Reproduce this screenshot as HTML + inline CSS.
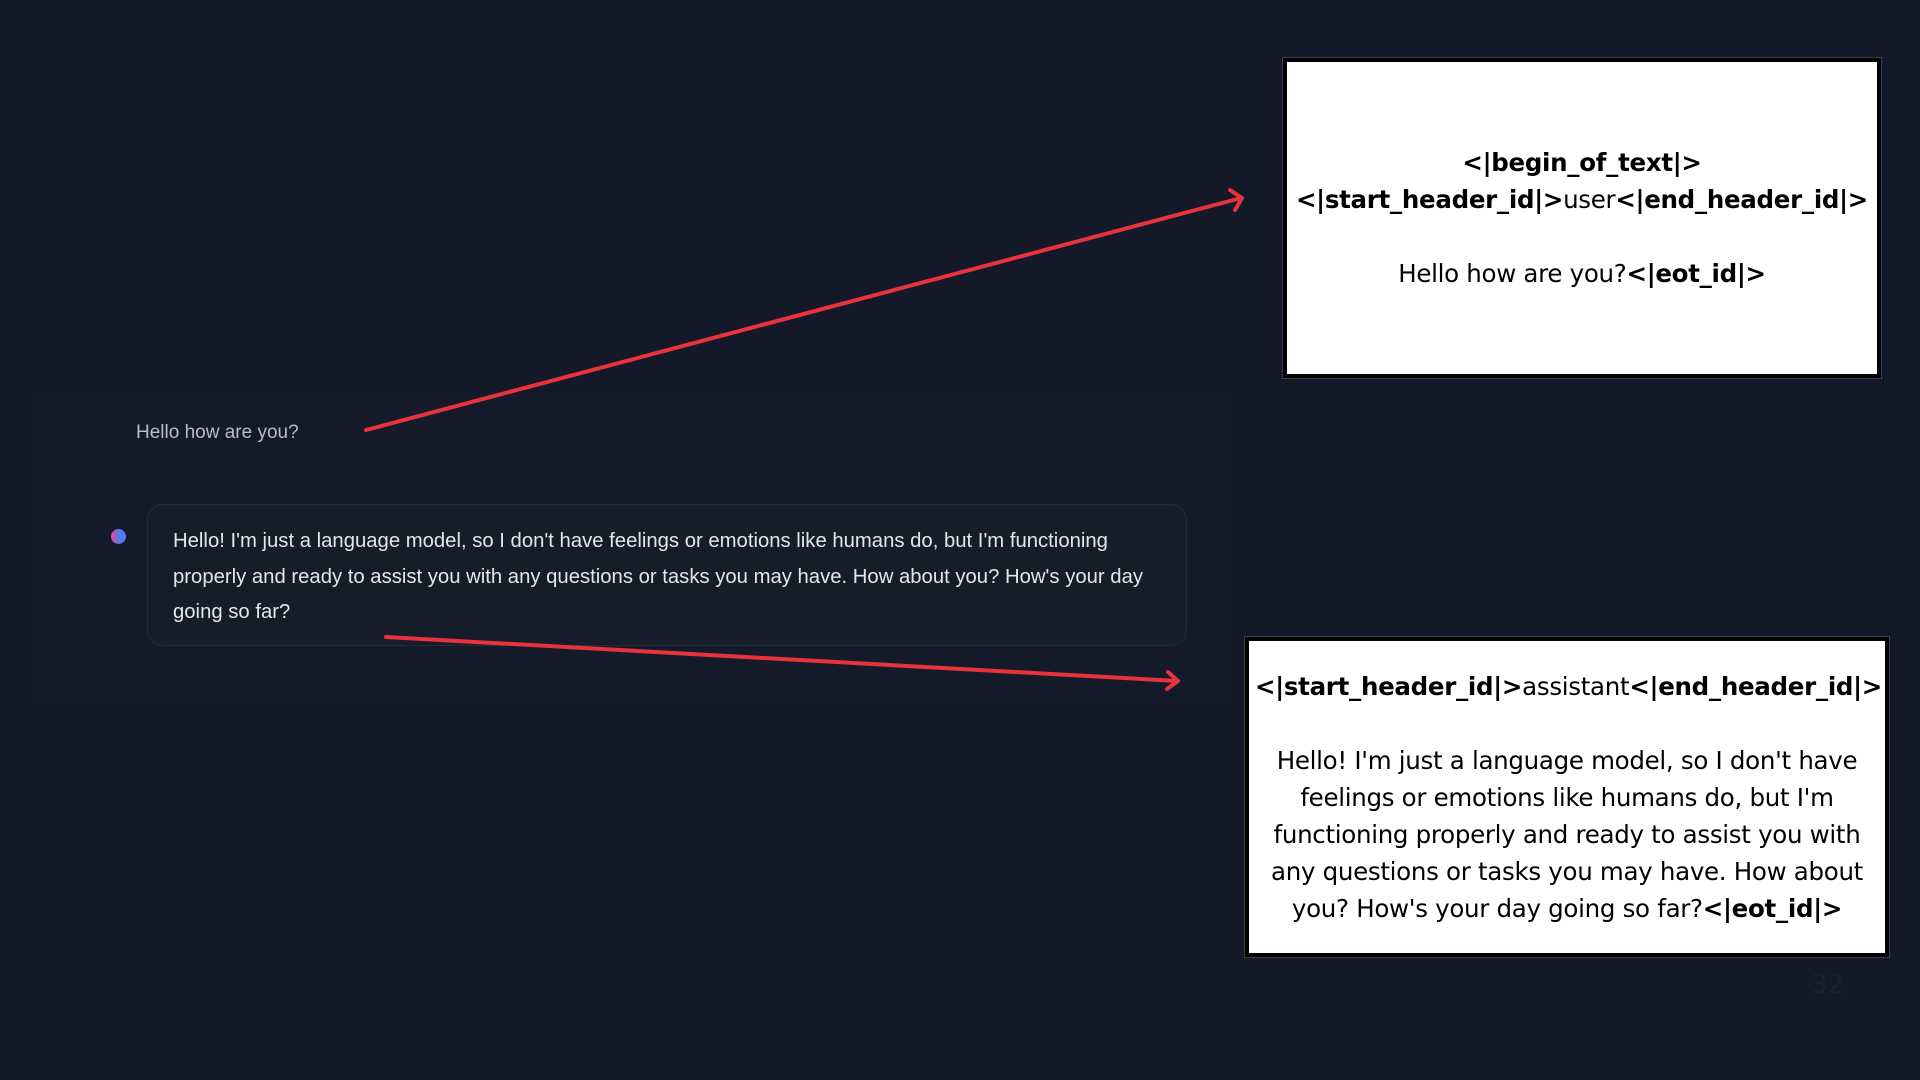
<!DOCTYPE html>
<html><head><meta charset="utf-8"><style>
html,body{margin:0;padding:0;width:1920px;height:1080px;overflow:hidden;background:#131928;}
.abs{position:absolute;}
.panel{left:38px;top:392px;width:1190px;height:310px;background:#141a29;}
.q{left:136px;top:422px;font:19px "Liberation Sans",sans-serif;color:#b9bdc6;white-space:nowrap;}
.dot{left:111px;top:529px;width:15px;height:15px;border-radius:50%;background:linear-gradient(90deg,#e2508f,#4f7cf7 60%);}
.bubble{left:147px;top:504px;width:1040px;height:142px;box-sizing:border-box;border:1px solid #222b3a;border-radius:16px;background:#161c2a;}
.bt{left:173px;top:524px;white-space:nowrap;font:20.3px/35.5px "Liberation Sans",sans-serif;color:#e4e6ea;}
.box{background:#fff;border:4px solid #000;box-sizing:border-box;outline:1px solid #3a3f4a;font-family:"DejaVu Sans","Liberation Sans",sans-serif;color:#000;text-align:center;font-size:24.5px;line-height:37px;}
b{font-weight:bold;}
.n{left:1811px;top:970px;font:26px "DejaVu Sans",sans-serif;color:#1c2130;}
</style></head><body>
<div class="abs panel"></div>
<div class="abs q">Hello how are you?</div>
<div class="abs dot"></div>
<div class="abs bubble"></div>
<div class="abs bt">Hello! I'm just a language model, so I don't have feelings or emotions like humans do, but I'm functioning<br>properly and ready to assist you with any questions or tasks you may have. How about you? How's your day<br>going so far?</div>

<div class="abs box" style="left:1283px;top:58px;width:598px;height:320px;">
<div style="position:absolute;left:0;right:0;top:82px;letter-spacing:-0.3px;"><b>&lt;|begin_of_text|&gt;</b><br><b>&lt;|start_header_id|&gt;</b>user<b>&lt;|end_header_id|&gt;</b><br><br>Hello how are you?<b>&lt;|eot_id|&gt;</b></div>
</div>

<div class="abs box" style="left:1245px;top:637px;width:644px;height:320px;">
<div style="position:absolute;left:6px;right:6px;top:27px;letter-spacing:-0.3px;"><b>&lt;|start_header_id|&gt;</b>assistant<b>&lt;|end_header_id|&gt;</b><br><br>Hello! I'm just a language model, so I don't have feelings or emotions like humans do, but I'm functioning properly and ready to assist you with any questions or tasks you may have. How about you? How's your day going so far?<b>&lt;|eot_id|&gt;</b></div>
</div>

<div class="abs n">32</div>

<svg class="abs" style="left:0;top:0" width="1920" height="1080">
<g stroke="#e8323e" stroke-width="4" fill="none" stroke-linecap="round" stroke-linejoin="round">
<line x1="366" y1="430" x2="1241" y2="198"/>
<polyline points="1230,190 1242,198 1235,210"/>
<line x1="386" y1="637" x2="1177" y2="681"/>
<polyline points="1168,672 1178,681 1167,689"/>
</g>
</svg>
</body></html>
